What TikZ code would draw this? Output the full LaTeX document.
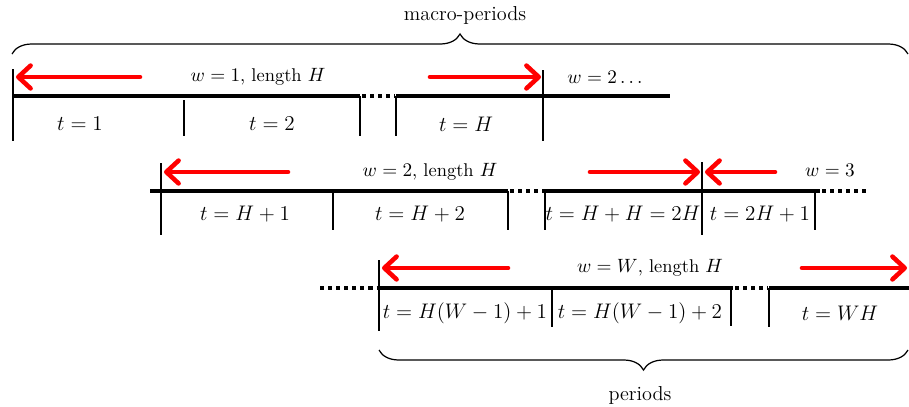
\documentclass[tikz,border=0pt]{standalone}
\usepackage{amsmath}
\usetikzlibrary{arrows.meta,decorations.pathreplacing}
\begin{document}
\begin{tikzpicture}[x=0.02cm,y=-0.02cm,
  bar/.style={line width=2.3pt},
  gap/.style={line width=2.3pt,dash pattern=on 2.3pt off 2.3pt},
  tick/.style={line width=0.6pt},
  edge/.style={line width=1.2pt},
  redarr/.style={draw=red,line width=2.6pt,line cap=round,-{Straight Barb[length=7pt,width=13pt,round]}},
  wlab/.style={font=\fontsize{10.5}{12}\selectfont,inner sep=1pt},
  tlab/.style={font=\large,inner sep=1pt},
  blab/.style={font=\fontsize{11.5}{13}\selectfont},
  brc/.style={decorate,decoration={brace,amplitude=0.4cm},line width=0.7pt}]
\useasboundingbox (0,0) rectangle (909,406);
% macro-periods
\draw[brc] (12,54) -- (908,54);
\node[blab] (mp) at (465,15) {macro-periods};
% w = 1
\draw[bar] (13,96) -- (360,96);
\draw[gap] (362,96) -- (395,96);
\draw[bar] (396,96) -- (670,96);
\draw[edge] (13,69) -- (13,141);
\draw[edge] (543,70) -- (543,141);
\draw[tick] (184,100) -- (184,136);
\draw[tick] (360,96) -- (360,136);
\draw[tick] (396,96) -- (396,136);
\coordinate (a1s) at (140,77); \coordinate (a1e) at (16,77);
\coordinate (a2s) at (430,77); \coordinate (a2e) at (541,77);
\draw[redarr] (a1s) -- (a1e);
\draw[redarr] (a2s) -- (a2e);
\node[wlab] (w1) at (258,77) {$w = 1$, length $H$};
\node[wlab] (w2) at (605,77) {$w = 2\ldots$};
\node[tlab] (t1) at (80,124) {$t = 1$};
\node[tlab] (t2) at (272,124) {$t = 2$};
\node[tlab] (tH) at (466,124) {$t = H$};
% w = 2
\draw[bar] (150,191) -- (508,191);
\draw[gap] (510,191) -- (545,191);
\draw[bar] (545,191) -- (820,191);
\draw[gap] (822,191) -- (866,191);
\draw[edge] (161,163) -- (161,235);
\draw[edge] (702,162) -- (702,235);
\draw[tick] (333,193) -- (333,230);
\draw[tick] (508,191) -- (508,230);
\draw[tick] (545,191) -- (545,230);
\draw[tick] (815,191) -- (815,230);
\coordinate (b1s) at (288,172); \coordinate (b1e) at (164,172);
\coordinate (b2s) at (590,172); \coordinate (b2e) at (700,172);
\coordinate (b3s) at (775,172); \coordinate (b3e) at (705,172);
\draw[redarr] (b1s) -- (b1e);
\draw[redarr] (b2s) -- (b2e);
\draw[redarr] (b3s) -- (b3e);
\node[wlab] (w2l) at (430,172) {$w = 2$, length $H$};
\node[wlab] (w3) at (830,170) {$w = 3$};
\node[tlab] (tH1) at (245,214) {$t = H + 1$};
\node[tlab] (tH2) at (420,214) {$t = H + 2$};
\node[tlab] (t2H) at (623,214) {$t = H + H = 2H$};
\node[tlab] (t2H1) at (760,214) {$t = 2H + 1$};
% w = W
\draw[gap] (320,288) -- (378,288);
\draw[bar] (379,288) -- (733,288);
\draw[gap] (735,288) -- (768,288);
\draw[bar] (769,288) -- (909,288);
\draw[edge] (379,260) -- (379,331);
\draw[tick] (552,290) -- (552,327);
\draw[tick] (731,288) -- (731,326);
\draw[tick] (769,288) -- (769,327);
\coordinate (c1s) at (508,268); \coordinate (c1e) at (382,268);
\coordinate (c2s) at (802,268); \coordinate (c2e) at (907,268);
\draw[redarr] (c1s) -- (c1e);
\draw[redarr] (c2s) -- (c2e);
\node[wlab] (wW) at (650,268) {$w = W$, length $H$};
\node[tlab] (tW1) at (465,313) {$t = H(W-1) + 1$};
\node[tlab] (tW2) at (640,313) {$t = H(W-1) + 2$};
\node[tlab] (tWH) at (840,313) {$t = WH$};
% periods
\draw[brc] (908,350) -- (379,350);
\node[blab] (per) at (640,395) {periods};
\end{tikzpicture}
\end{document}
